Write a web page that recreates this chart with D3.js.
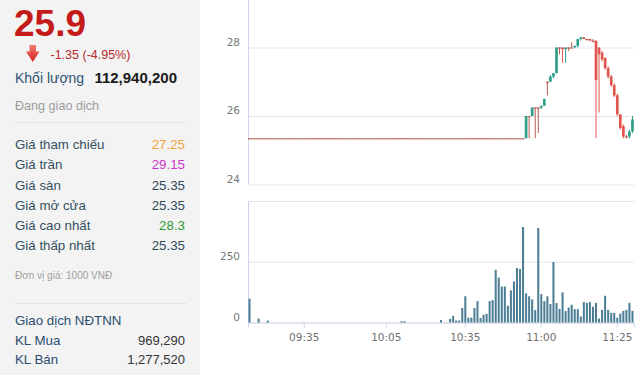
<!DOCTYPE html>
<html>
<head>
<meta charset="utf-8">
<script src="https://cdn.jsdelivr.net/npm/d3@7"></script>
<style>
  body { margin: 0; background: #fff; }
  #vis { font-family: "Liberation Sans", Arial, sans-serif; }
</style>
</head>
<body>
<div id="vis"></div>
<script>
// ---- data ----
const lastPrice = "25.9";
const change = "-1.35 (-4.95%)";
const totalVolume = "112,940,200";
const status = "Đang giao dịch";
const infoLabels = ["Giá tham chiếu", "Giá trần", "Giá sàn", "Giá mở cửa", "Giá cao nhất", "Giá thấp nhất"];
const infoValues = ["27.25", "29.15", "25.35", "25.35", "28.3", "25.35"];
const unitNote = "Đơn vị giá: 1000 VNĐ";
const foreignTitle = "Giao dịch NĐTNN";
const foreignLabels = ["KL Mua", "KL Bán"];
const foreignValues = ["969,290", "1,277,520"];

const times = [
  "09:15","09:16","09:18","09:19","09:20","09:21","09:22","09:23","09:24","09:25","09:27","09:28","09:29","09:30","09:31","09:32","09:33","09:34",
  "09:35","09:36","09:37","09:38","09:40","09:41","09:42","09:43","09:44","09:45","09:46","09:48","09:49","09:50","09:51","09:52","09:53","09:54","09:55","09:57","09:58","09:59","10:00","10:01","10:02","10:03","10:04",
  "10:05","10:06","10:07","10:08","10:10","10:11","10:12","10:13","10:14","10:15","10:17","10:18","10:19","10:20","10:21","10:23","10:24","10:25","10:26","10:27","10:29","10:30","10:31","10:32","10:33","10:34",
  "10:35","10:36","10:37","10:38","10:39","10:40","10:41","10:42","10:43","10:44","10:45","10:46","10:47","10:48","10:49","10:50","10:51","10:52","10:53","10:54","10:55","10:56","10:57","10:58","10:59",
  "11:00","11:01","11:02","11:03","11:04","11:05","11:06","11:07","11:08","11:09","11:10","11:11","11:12","11:13","11:14","11:15","11:16","11:17","11:18","11:19","11:20","11:21","11:22","11:23","11:24","11:25","11:26","11:27","11:28","11:29","11:30"
];

const opens = [
  25.35,25.35,25.35,25.35,25.35,25.35,25.35,25.35,25.35,25.35,25.35,25.35,25.35,25.35,25.35,25.35,25.35,25.35,25.35,25.35,
  25.35,25.35,25.35,25.35,25.35,25.35,25.35,25.35,25.35,25.35,25.35,25.35,25.35,25.35,25.35,25.35,25.35,25.35,25.35,25.35,
  25.35,25.35,25.35,25.35,25.35,25.35,25.35,25.35,25.35,25.35,25.35,25.35,25.35,25.35,25.35,25.35,25.35,25.35,25.35,25.35,
  25.35,25.35,25.35,25.35,25.35,25.35,25.35,25.35,25.35,25.35,25.35,25.35,25.35,25.35,25.35,25.35,25.35,25.35,25.35,25.35,
  25.35,25.35,25.35,25.35,25.35,25.35,25.35,25.35,25.35,25.35,25.35,
  25.35,26.0,26.0,26.25,26.25,26.25,26.3,27.0,27.0,27.15,27.25,28.0,28.0,27.95,28.0,28.0,28.0,28.05,28.25,28.3,
  28.25,28.25,28.2,28.2,28.0,27.85,27.7,27.4,27.15,26.9,26.6,26.05,25.7,25.4,25.4,25.55
];
const highs = [
  25.35,25.35,25.35,25.35,25.35,25.35,25.35,25.35,25.35,25.35,25.35,25.35,25.35,25.35,25.35,25.35,25.35,25.35,25.35,25.35,
  25.35,25.35,25.35,25.35,25.35,25.35,25.35,25.35,25.35,25.35,25.35,25.35,25.35,25.35,25.35,25.35,25.35,25.35,25.35,25.35,
  25.35,25.35,25.35,25.35,25.35,25.35,25.35,25.35,25.35,25.35,25.35,25.35,25.35,25.35,25.35,25.35,25.35,25.35,25.35,25.35,
  25.35,25.35,25.35,25.35,25.35,25.35,25.35,25.35,25.35,25.35,25.35,25.35,25.35,25.35,25.35,25.35,25.35,25.35,25.35,25.35,
  25.35,25.35,25.35,25.35,25.35,25.35,25.35,25.35,25.35,25.35,25.35,
  26.0,26.0,26.25,26.25,26.25,26.3,26.5,27.0,27.2,27.25,28.0,28.0,28.0,28.0,28.0,28.15,28.05,28.25,28.3,28.3,
  28.25,28.25,28.25,28.2,28.0,27.9,27.7,27.45,27.2,26.95,26.65,26.05,25.75,25.45,25.6,26.0
];
const lows = [
  25.35,25.35,25.35,25.35,25.35,25.35,25.35,25.35,25.35,25.35,25.35,25.35,25.35,25.35,25.35,25.35,25.35,25.35,25.35,25.35,
  25.35,25.35,25.35,25.35,25.35,25.35,25.35,25.35,25.35,25.35,25.35,25.35,25.35,25.35,25.35,25.35,25.35,25.35,25.35,25.35,
  25.35,25.35,25.35,25.35,25.35,25.35,25.35,25.35,25.35,25.35,25.35,25.35,25.35,25.35,25.35,25.35,25.35,25.35,25.35,25.35,
  25.35,25.35,25.35,25.35,25.35,25.35,25.35,25.35,25.35,25.35,25.35,25.35,25.35,25.35,25.35,25.35,25.35,25.35,25.35,25.35,
  25.35,25.35,25.35,25.35,25.35,25.35,25.35,25.35,25.35,25.35,25.35,
  25.35,25.35,26.0,25.35,25.5,26.2,26.3,26.6,27.0,27.1,27.25,27.8,27.55,27.55,27.9,28.0,28.0,28.0,28.2,28.25,
  28.2,28.2,28.15,25.35,26.1,27.6,27.35,27.1,26.85,26.55,26.0,25.6,25.35,25.35,25.35,25.5
];
const closes = [
  25.35,25.35,25.35,25.35,25.35,25.35,25.35,25.35,25.35,25.35,25.35,25.35,25.35,25.35,25.35,25.35,25.35,25.35,25.35,25.35,
  25.35,25.35,25.35,25.35,25.35,25.35,25.35,25.35,25.35,25.35,25.35,25.35,25.35,25.35,25.35,25.35,25.35,25.35,25.35,25.35,
  25.35,25.35,25.35,25.35,25.35,25.35,25.35,25.35,25.35,25.35,25.35,25.35,25.35,25.35,25.35,25.35,25.35,25.35,25.35,25.35,
  25.35,25.35,25.35,25.35,25.35,25.35,25.35,25.35,25.35,25.35,25.35,25.35,25.35,25.35,25.35,25.35,25.35,25.35,25.35,25.35,
  25.35,25.35,25.35,25.35,25.35,25.35,25.35,25.35,25.35,25.35,25.35,
  26.0,26.0,26.25,26.25,26.25,26.3,26.5,27.0,27.15,27.25,28.0,28.0,27.95,28.0,28.0,28.0,28.05,28.25,28.3,28.25,
  28.25,28.2,28.2,27.05,27.8,27.65,27.4,27.15,26.9,26.6,26.05,25.65,25.4,25.4,25.55,25.9
];
const volumes = [
  98,0,0,16,0,0,8,0,0,0,
  0,0,0,0,0,0,0,0,0,0,
  0,0,0,0,0,0,0,0,0,0,
  0,0,0,0,0,0,0,0,0,0,
  0,0,0,0,0,0,0,0,0,0,
  5,5,0,0,0,0,0,0,0,0,
  0,0,0,10,0,0,15,27,8,8,
  60,108,20,20,60,88,19,32,36,88,
  92,217,185,148,148,69,132,169,224,220,
  393,120,108,95,51,389,117,88,108,76,
  249,80,56,124,47,62,73,55,55,25,
  84,81,84,65,81,16,52,110,52,40,
  40,20,37,48,52,81,48
];
const priceTicks = [24, 26, 28];
const volumeTicks = [0, 250, 500];
const timeTicks = ["09:35", "10:05", "10:35", "11:00", "11:25"];

// ---- drawing ----
const W = 640, H = 375;
const svg = d3.select("#vis").append("svg").attr("width", W).attr("height", H);

// left info panel
svg.append("rect").attr("width", 200).attr("height", H).attr("fill", "#f3f3f3");

const valueColor = { "Giá tham chiếu": "#f2a33a", "Giá trần": "#cc33cc", "Giá cao nhất": "#2f9a2f" };

svg.append("text").attr("x", 14).attr("y", 36)
  .attr("font-size", 37).attr("font-weight", "bold").attr("fill", "#c41a1a")
  .text(lastPrice);

const grad = svg.append("defs").append("linearGradient").attr("id", "arrowGrad")
  .attr("x1", 0).attr("y1", 0).attr("x2", 0).attr("y2", 1);
grad.append("stop").attr("offset", "0%").attr("stop-color", "#f07a6e");
grad.append("stop").attr("offset", "100%").attr("stop-color", "#d3231c");
svg.append("path")
  .attr("d", "M29.5,45 L36,45 L36,51.5 L39.5,51.5 L32.75,62 L26,51.5 L29.5,51.5 Z")
  .attr("fill", "url(#arrowGrad)");

svg.append("text").attr("x", 50.5).attr("y", 59)
  .attr("font-size", 12.5).attr("fill", "#b82a2a").text(change);

svg.append("text").attr("x", 15).attr("y", 83.3)
  .attr("font-size", 14).attr("fill", "#2f5575").text("Khối lượng");
svg.append("text").attr("x", 177).attr("y", 83.3).attr("text-anchor", "end")
  .attr("font-size", 15).attr("font-weight", "bold").attr("fill", "#1a1a1a").text(totalVolume);

svg.append("text").attr("x", 15).attr("y", 110)
  .attr("font-size", 12.6).attr("fill", "#9b9b9b").text(status);

svg.append("line").attr("x1", 15).attr("x2", 186).attr("y1", 122.5).attr("y2", 122.5)
  .attr("stroke", "#e1e1e1");

infoLabels.forEach((lab, i) => {
  const yy = 149 + i * 20.25;
  svg.append("text").attr("x", 15).attr("y", yy)
    .attr("font-size", 13.3).attr("fill", "#33505f").text(lab);
  svg.append("text").attr("x", 185).attr("y", yy).attr("text-anchor", "end")
    .attr("font-size", 13.3).attr("fill", valueColor[lab] || "#2e4a5a").text(infoValues[i]);
});

svg.append("text").attr("x", 15).attr("y", 279)
  .attr("font-size", 10).attr("fill", "#a0a0a0").text(unitNote);

svg.append("line").attr("x1", 15).attr("x2", 186).attr("y1", 303.5).attr("y2", 303.5)
  .attr("stroke", "#e1e1e1");

svg.append("text").attr("x", 15).attr("y", 325)
  .attr("font-size", 13.3).attr("fill", "#2a4d70").text(foreignTitle);
foreignLabels.forEach((lab, i) => {
  const yy = 345 + i * 19.3;
  svg.append("text").attr("x", 15).attr("y", yy)
    .attr("font-size", 13.3).attr("fill", "#2a4d70").text(lab);
  svg.append("text").attr("x", 185).attr("y", yy).attr("text-anchor", "end")
    .attr("font-size", 13).attr("fill", "#333").text(foreignValues[i]);
});

// chart scales
const left = 248, right = 634;
const x = d3.scaleBand().domain(times).range([left, right]).padding(0);
const step = x.step();
const cx = t => x(t) + step / 2;

const yP = d3.scaleLinear().domain([24, 28]).range([184.5, 47.5]);
const yV = d3.scaleLinear().domain([0, 500]).range([322.5, 201]);

const axisColor = "#ccd6eb";
const gridColor = "#e6e6e6";
const labelFont = "DejaVu Sans, Verdana, sans-serif";

function styleY(g) {
  g.select(".domain").remove();
  g.selectAll(".tick line").attr("stroke", gridColor);
  g.selectAll(".tick text").attr("fill", "#777").attr("font-size", 10.5)
    .attr("font-family", labelFont).attr("y", -5.5);
}

svg.append("g").attr("transform", `translate(${left},0)`)
  .call(d3.axisLeft(yP).tickValues(priceTicks).tickSize(-(right - left)).tickPadding(8).tickFormat(d3.format("d")))
  .call(styleY);

svg.append("g").attr("transform", `translate(${left},0)`)
  .call(d3.axisLeft(yV).tickValues(volumeTicks).tickSize(-(right - left)).tickPadding(8)
    .tickFormat(d => d === 500 ? "" : d))
  .call(styleY);

svg.append("line").attr("x1", left + 0.5).attr("x2", left + 0.5).attr("y1", 0).attr("y2", yP(24))
  .attr("stroke", axisColor);
svg.append("line").attr("x1", left + 0.5).attr("x2", left + 0.5).attr("y1", yV(500)).attr("y2", yV(0))
  .attr("stroke", axisColor);

const xAxis = svg.append("g").attr("transform", `translate(0,${yV(0)})`)
  .call(d3.axisBottom(x).tickValues(timeTicks).tickSize(5).tickPadding(6));
xAxis.select(".domain").attr("stroke", axisColor);
xAxis.selectAll(".tick line").attr("stroke", axisColor);
xAxis.selectAll(".tick text").attr("fill", "#6f6f6f").attr("font-size", 10.5).attr("font-family", labelFont);

// candles
const upColor = "#2f9e88", downColor = "#e0544b", flatColor = "#b65a52";
const bodyW = step * 0.88;
const candles = svg.append("g");
times.forEach((t, i) => {
  const o = opens[i], h = highs[i], l = lows[i], c = closes[i];
  const col = c > o ? upColor : c < o ? downColor : flatColor;
  if (h > l) {
    candles.append("line").attr("x1", cx(t)).attr("x2", cx(t))
      .attr("y1", yP(h)).attr("y2", yP(l)).attr("stroke", col).attr("stroke-width", 1);
  }
  const top = yP(Math.max(o, c));
  const hgt = Math.max(1.1, Math.abs(yP(o) - yP(c)));
  candles.append("rect").attr("x", cx(t) - (c === o ? step / 2 : bodyW / 2)).attr("y", top)
    .attr("width", c === o ? step : bodyW).attr("height", hgt).attr("fill", col);
});

// volume bars
const volW = step * 0.66;
svg.append("g").selectAll("rect")
  .data(times.map((t, i) => ({ t, v: volumes[i] })).filter(d => d.v > 0))
  .enter().append("rect")
  .attr("x", d => cx(d.t) - volW / 2)
  .attr("y", d => yV(d.v))
  .attr("width", volW)
  .attr("height", d => yV(0) - yV(d.v))
  .attr("fill", "#4b7d94");
</script>
</body>
</html>
